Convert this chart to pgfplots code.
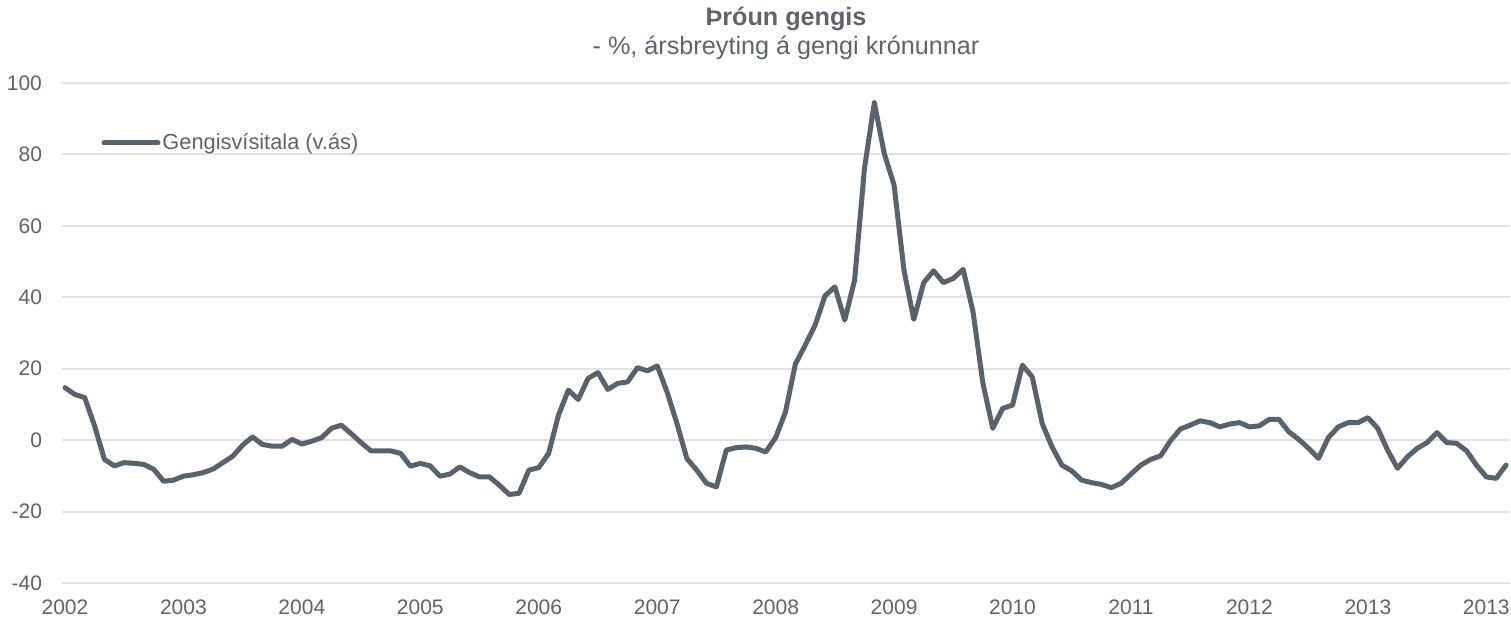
\documentclass[border=0pt]{standalone}
\usepackage{fontspec}
\setmainfont{Liberation Sans}
\usepackage{pgfplots}
\usepackage{pgfplotstable}
\pgfplotsset{compat=1.18}
\definecolor{linegray}{RGB}{89,99,110}
\definecolor{txtgray}{RGB}{92,100,110}
\definecolor{gridgray}{RGB}{226,226,226}
\pgfplotstableread{
i v
0 14.7
1 12.8
2 11.9
3 4.0
4 -5.4
5 -7.2
6 -6.3
7 -6.5
8 -6.8
9 -8.2
10 -11.5
11 -11.2
12 -10.1
13 -9.7
14 -9.1
15 -8.1
16 -6.3
17 -4.5
18 -1.4
19 0.9
20 -1.2
21 -1.7
22 -1.7
23 0.2
24 -1.1
25 -0.3
26 0.7
27 3.3
28 4.2
29 1.8
30 -0.7
31 -3.0
32 -3.0
33 -3.0
34 -3.7
35 -7.3
36 -6.5
37 -7.2
38 -10.1
39 -9.5
40 -7.5
41 -9.1
42 -10.3
43 -10.3
44 -12.6
45 -15.2
46 -14.9
47 -8.4
48 -7.7
49 -3.7
50 7.0
51 14.0
52 11.4
53 17.3
54 18.9
55 14.2
56 15.9
57 16.3
58 20.3
59 19.4
60 20.8
61 13.5
62 4.7
63 -5.1
64 -8.4
65 -12.1
66 -13.1
67 -2.8
68 -2.1
69 -1.9
70 -2.3
71 -3.3
72 0.7
73 7.9
74 21.3
75 26.6
76 32.2
77 40.4
78 42.9
79 33.6
80 44.8
81 76.1
82 94.5
83 80.3
84 71.4
85 47.6
86 33.8
87 44.1
88 47.4
89 44.1
90 45.3
91 47.8
92 35.9
93 15.9
94 3.3
95 8.9
96 9.8
97 21.0
98 17.7
99 4.7
100 -1.9
101 -7.0
102 -8.6
103 -11.2
104 -11.9
105 -12.4
106 -13.3
107 -12.1
108 -9.5
109 -7.0
110 -5.4
111 -4.4
112 -0.2
113 3.1
114 4.2
115 5.4
116 4.9
117 3.7
118 4.5
119 4.9
120 3.7
121 4.0
122 5.8
123 5.8
124 2.3
125 0.2
126 -2.3
127 -5.1
128 0.7
129 3.7
130 4.9
131 4.9
132 6.3
133 3.3
134 -2.8
135 -7.9
136 -4.7
137 -2.3
138 -0.7
139 2.1
140 -0.7
141 -0.9
142 -3.0
143 -7.0
144 -10.3
145 -10.7
146 -7.0
}\datatable
\begin{document}
\begin{tikzpicture}
\begin{axis}[
  name=ax,
  scale only axis,
  width=724pt, height=250pt,
  xmin=-0.3, xmax=146.4,
  ymin=-40, ymax=100,
  ytick={-40,-20,0,20,40,60,80,100},
  yticklabels={-40,-20,0,20,40,60,80,100},
  xtick={0,12,24,36,48,60,72,84,96,108,120,132,144},
  xticklabels={2002,2003,2004,2005,2006,2007,2008,2009,2010,2011,2012,2013,2013},
  ymajorgrids,
  grid style={gridgray, line width=1pt},
  axis line style={draw=none},
  major tick length=0pt,
  tick label style={font=\fontsize{10.5}{12}\selectfont, text=txtgray},
  yticklabel style={xshift=-6.5pt},
  xticklabel style={yshift=-5pt},
  legend style={draw=none, fill=none, at={(0.027,0.88)}, anchor=west,
    inner sep=0pt, font=\fontsize{10.9}{12}\selectfont, text=txtgray,
    nodes={inner sep=1pt}},
  legend image code/.code={\draw[#1, line cap=round] (0pt,0pt) -- (27pt,0pt);},
  clip=false,
]
\addplot[linegray, line width=2.5pt, line join=round, line cap=round] table[x=i, y=v] {\datatable};
\addlegendentry{Gengisvísitala (v.ás)}
\end{axis}
\node[text=txtgray, font=\bfseries\fontsize{12.6}{14}\selectfont] at ([yshift=32pt]ax.north) {Þróun gengis};
\node[text=txtgray, font=\fontsize{12.6}{14}\selectfont] at ([yshift=17.5pt]ax.north) {- \%, ársbreyting á gengi krónunnar};
\pgfresetboundingbox
\path[use as bounding box] ([shift={(-31pt,-17.5pt)}]ax.south west) rectangle ([shift={(0.5pt,41.5pt)}]ax.north east);
\end{tikzpicture}
\end{document}
